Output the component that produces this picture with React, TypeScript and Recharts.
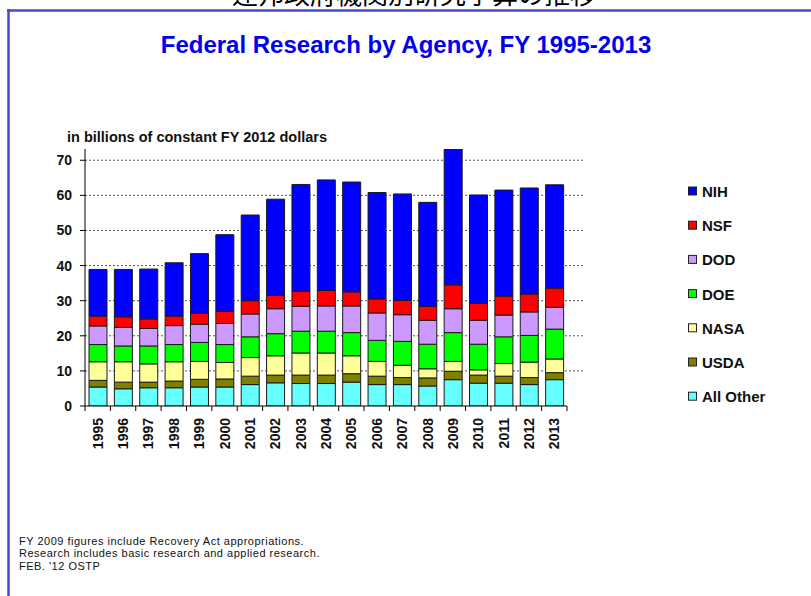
import { Bar, BarChart, CartesianGrid, XAxis, YAxis } from "recharts";

const years = [
  "1995", "1996", "1997", "1998", "1999", "2000", "2001", "2002", "2003", "2004",
  "2005", "2006", "2007", "2008", "2009", "2010", "2011", "2012", "2013",
];
const allOther = [5.4, 4.9, 5.2, 5.2, 5.4, 5.4, 6.1, 6.6, 6.4, 6.4, 6.8, 6.1, 6.1, 5.7, 7.5, 6.5, 6.5, 6.1, 7.5];
const usda = [1.9, 1.9, 1.6, 1.9, 2.2, 2.3, 2.4, 2.2, 2.4, 2.4, 2.4, 2.4, 2.0, 2.3, 2.4, 2.3, 2.0, 2.0, 2.0];
const nasa = [5.3, 5.8, 5.2, 5.5, 5.1, 4.7, 5.3, 5.5, 6.3, 6.3, 5.1, 4.2, 3.5, 2.6, 2.8, 1.5, 3.6, 4.4, 3.9];
const doe = [4.9, 4.5, 5.1, 4.9, 5.4, 5.1, 5.9, 6.3, 6.2, 6.2, 6.6, 6.0, 6.8, 7.0, 8.2, 7.3, 7.6, 7.6, 8.5];
const dod = [5.3, 5.3, 5.0, 5.4, 5.2, 6.0, 6.5, 7.1, 7.1, 7.2, 7.6, 7.8, 7.6, 6.8, 6.8, 6.8, 6.2, 6.7, 6.2];
const nsf = [2.8, 3.0, 2.7, 2.7, 3.1, 3.5, 3.8, 3.8, 4.3, 4.4, 4.0, 4.0, 4.1, 4.0, 6.8, 4.9, 5.4, 5.1, 5.5];
const nih = [13.3, 13.5, 14.2, 15.2, 17.0, 21.8, 24.4, 27.4, 30.4, 31.5, 31.3, 30.3, 30.3, 29.6, 38.7, 30.8, 30.2, 30.2, 29.4];

const yTicks = [0, 10, 20, 30, 40, 50, 60, 70];

// bottom to top
const series = [
  { key: "allOther", name: "All Other", color: "#66FFFF", values: allOther },
  { key: "usda", name: "USDA", color: "#808000", values: usda },
  { key: "nasa", name: "NASA", color: "#FFFF99", values: nasa },
  { key: "doe", name: "DOE", color: "#00FF00", values: doe },
  { key: "dod", name: "DOD", color: "#CC99FF", values: dod },
  { key: "nsf", name: "NSF", color: "#FF0000", values: nsf },
  { key: "nih", name: "NIH", color: "#0000FF", values: nih },
];

const footnotes = [
  "FY 2009 figures include Recovery Act appropriations.",
  "Research includes basic research and applied research.",
  "FEB. '12 OSTP",
];

const data = years.map((year, i) => {
  const row: Record<string, string | number> = { year };
  series.forEach((s) => (row[s.key] = s.values[i]));
  return row;
});

const FONT = "Arial, 'Liberation Sans', sans-serif";

function YearTick(props: any) {
  const { x, y, payload, index, visibleTicksCount } = props;
  const half = payload?.offset ?? 12.68;
  return (
    <g>
      <line x1={x - half} x2={x - half} y1={y} y2={y + 5} stroke="#000" />
      {index === visibleTicksCount - 1 && (
        <line x1={x + half} x2={x + half} y1={y} y2={y + 5} stroke="#000" />
      )}
      <text
        transform={`translate(${x},${y}) rotate(-90)`}
        x={-12}
        dy="0.36em"
        textAnchor="end"
        fontFamily={FONT}
        fontWeight="bold"
        fontSize={14}
        fill="#111"
      >
        {payload.value}
      </text>
    </g>
  );
}

function GridLine(props: any) {
  const { x1, x2, y1, y2 } = props;
  return (
    <line
      key={`g-${y1}`}
      x1={x1}
      x2={x2 + 16}
      y1={y1}
      y2={y2}
      stroke="#555"
      strokeDasharray="2 2"
    />
  );
}

export default function App() {
  const legend = [...series].reverse();
  return (
    <div
      style={{
        position: "absolute",
        left: 0,
        top: 0,
        width: 811,
        height: 596,
        background: "#fff",
        overflow: "hidden",
      }}
    >
      <BarChart
        width={811}
        height={596}
        data={data}
        margin={{ top: 149, right: 244, bottom: 140, left: 0 }}
      >
        <CartesianGrid
          vertical={false}
          horizontalValues={[10, 20, 30, 40, 50, 60, 70]}
          horizontal={GridLine}
        />
        <XAxis
          dataKey="year"
          interval={0}
          height={50}
          tickLine={false}
          tickSize={0}
          tickMargin={0}
          axisLine={{ stroke: "#000" }}
          tick={<YearTick />}
        />
        <YAxis
          width={85}
          domain={[0, 73.2]}
          ticks={yTicks}
          allowDataOverflow
          tickSize={5}
          tickMargin={8}
          axisLine={{ stroke: "#000" }}
          tickLine={{ stroke: "#000" }}
          tick={{ fill: "#111", fontFamily: FONT, fontWeight: "bold", fontSize: 14 }}
        />
        {series.map((s) => (
          <Bar
            key={s.key}
            dataKey={s.key}
            name={s.name}
            stackId="a"
            fill={s.color}
            stroke="#1a1a1a"
            strokeWidth={1}
            barSize={18}
            isAnimationActive={false}
          />
        ))}
      </BarChart>

      <svg
        width={811}
        height={596}
        style={{ position: "absolute", left: 0, top: 0, pointerEvents: "none" }}
      >
        <text
          x={414}
          y={4}
          textAnchor="middle"
          fontFamily="'Noto Sans CJK JP', sans-serif"
          fontSize={26}
          fill="#000"
        >
          連邦政府機関別研究予算の推移
        </text>
        <line x1={7} x2={811} y1={10.5} y2={10.5} stroke="#4646d8" strokeWidth={2.5} />
        <line x1={8.5} x2={8.5} y1={9} y2={596} stroke="#4646d8" strokeWidth={2.5} />

        <text
          x={406}
          y={53}
          textAnchor="middle"
          fontFamily={FONT}
          fontWeight="bold"
          fontSize={24}
          fill="#0000EE"
        >
          Federal Research by Agency, FY 1995-2013
        </text>

        <text x={67} y={142} fontFamily={FONT} fontWeight="bold" fontSize={14.5} fill="#111">
          in billions of constant FY 2012 dollars
        </text>

        {legend.map((s, i) => {
          const cy = 191.5 + i * 34.2;
          return (
            <g key={s.key}>
              <rect x={688.5} y={cy - 4.5} width={8} height={8} fill={s.color} stroke="#222" />
              <text
                x={702}
                y={cy + 5.5}
                fontFamily={FONT}
                fontWeight="bold"
                fontSize={15}
                fill="#111"
              >
                {s.name}
              </text>
            </g>
          );
        })}

        <g fontFamily={FONT} fontSize={11} fill="#111" letterSpacing={0.5}>
          {footnotes.map((t, i) => (
            <text key={i} x={19} y={545 + i * 12.3}>
              {t}
            </text>
          ))}
        </g>
      </svg>
    </div>
  );
}
